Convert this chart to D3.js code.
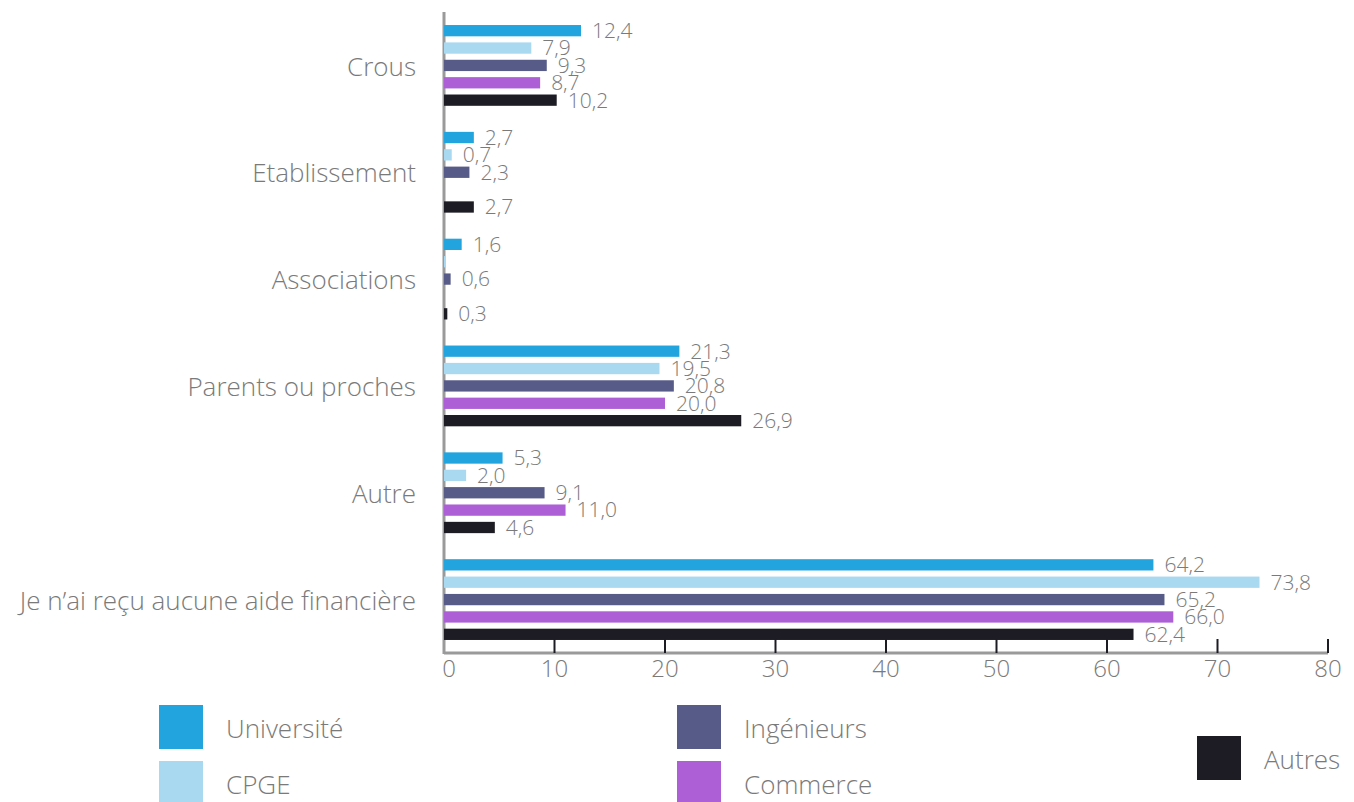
<!DOCTYPE html>
<html>
<head>
<meta charset="utf-8">
<script src="https://cdn.jsdelivr.net/npm/d3@7"></script>
<style>
  body { margin: 0; background: #fff; }
  svg text { font-family: "Open Sans", sans-serif; font-weight: 300; fill: #7a7a7a; }
</style>
</head>
<body>
<div id="chart"></div>
<script>
// categories (top to bottom)
var categories = ["Crous", "Etablissement", "Associations", "Parents ou proches", "Autre", "Je n\u2019ai reçu aucune aide financière"];
var series = ["Université", "CPGE", "Ingénieurs", "Commerce", "Autres"];
var colors = ["#22a4df", "#a8d9f0", "#565b87", "#ad60d6", "#1d1c25"];

// values per series, same order as categories (null = no bar)
var universite = [12.4, 2.7, 1.6, 21.3, 5.3, 64.2];
var cpge       = [7.9, 0.7, 0.1, 19.5, 2.0, 73.8];
var ingenieurs = [9.3, 2.3, 0.6, 20.8, 9.1, 65.2];
var commerce   = [8.7, null, null, 20.0, 11.0, 66.0];
var autres     = [10.2, 2.7, 0.3, 26.9, 4.6, 62.4];

var xTicks = [0, 10, 20, 30, 40, 50, 60, 70, 80];

var allValues = [universite, cpge, ingenieurs, commerce, autres];

var width = 1354, height = 802;
var svg = d3.select("#chart").append("svg")
    .attr("width", width)
    .attr("height", height);

var x = d3.scaleLinear().domain([0, 80]).range([444, 1328]);
var y0 = d3.scaleBand().domain(categories).range([12, 653]);
var y1 = d3.scaleBand().domain(series).range([0, y0.bandwidth()])
    .paddingInner(0.35).paddingOuter(0.75);

var fmt = function(v) { return v.toFixed(1).replace(".", ","); };

// y axis line
svg.append("line")
    .attr("x1", x(0)).attr("x2", x(0))
    .attr("y1", 12).attr("y2", 654)
    .attr("stroke", "#9a9a9a").attr("stroke-width", 3);

// bars
categories.forEach(function(cat, ci) {
    var g = svg.append("g").attr("transform", "translate(0," + y0(cat) + ")");
    series.forEach(function(s, si) {
        var v = allValues[si][ci];
        if (v === null) return;
        g.append("rect")
            .attr("x", x(0))
            .attr("y", y1(s))
            .attr("width", Math.max(x(v) - x(0), 1.5))
            .attr("height", y1.bandwidth())
            .attr("fill", colors[si]);
        if (v >= 0.2) {
            g.append("text")
                .attr("x", x(v) + 11)
                .attr("y", y1(s) + y1.bandwidth() / 2)
                .attr("dy", "0.35em")
                .style("font-size", "21px")
                .text(fmt(v));
        }
    });
});

// category labels
svg.selectAll(".cat")
    .data(categories)
    .enter()
    .append("text")
    .attr("class", "cat")
    .attr("x", 416)
    .attr("y", function(d) { return y0(d) + y0.bandwidth() / 2 + 1; })
    .attr("dy", "0.35em")
    .attr("text-anchor", "end")
    .style("font-size", "26px")
    .text(function(d) { return d; });

// x axis
var xAxis = svg.append("g").attr("transform", "translate(0,653)");
xAxis.append("line")
    .attr("x1", x(0)).attr("x2", x(80))
    .attr("stroke", "#9a9a9a").attr("stroke-width", 3);
xAxis.selectAll(".tick")
    .data(xTicks.filter(function(t) { return t > 0; }))
    .enter()
    .append("line")
    .attr("x1", function(d) { return x(d); })
    .attr("x2", function(d) { return x(d); })
    .attr("y1", -14).attr("y2", 0)
    .attr("stroke", "#1d1c25").attr("stroke-width", 2);
xAxis.selectAll(".tl")
    .data(xTicks)
    .enter()
    .append("text")
    .attr("x", function(d) { return x(d) + (d === 0 ? 5 : 0); })
    .attr("y", 24)
    .attr("text-anchor", "middle")
    .style("font-size", "24px")
    .text(function(d) { return d; });

// legend
var legendPos = [[159, 705], [159, 761], [677, 705], [677, 761], [1197, 736]];
series.forEach(function(s, i) {
    var p = legendPos[i];
    svg.append("rect")
        .attr("x", p[0]).attr("y", p[1])
        .attr("width", 44).attr("height", 44)
        .attr("fill", colors[i]);
    svg.append("text")
        .attr("x", p[0] + 67)
        .attr("y", p[1] + 24)
        .attr("dy", "0.35em")
        .style("font-size", "26px")
        .text(s);
});
</script>
</body>
</html>
